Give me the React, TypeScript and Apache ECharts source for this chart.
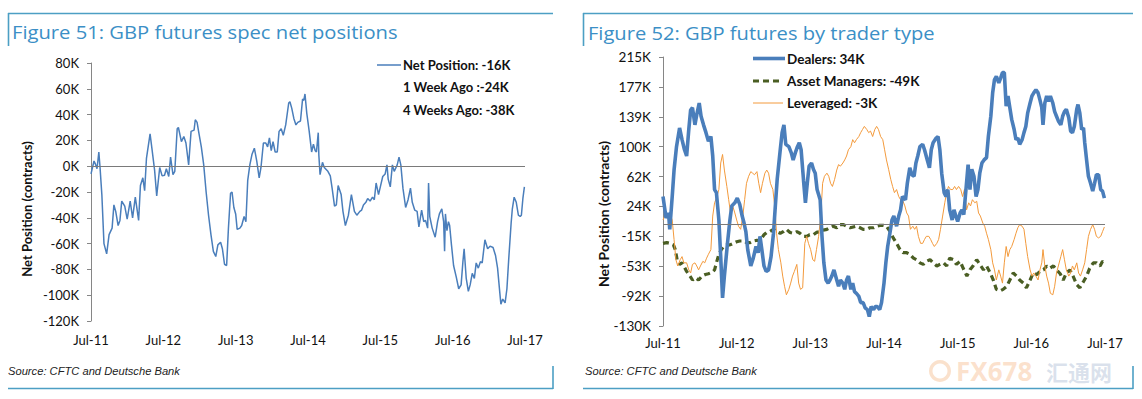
import React, { useEffect, useRef } from "react";
import * as echarts from "echarts";

// ---------- DATA (x = months since Jul-2011, y = thousands of contracts) ----------
const xTickLabels = ["Jul-11", "Jul-12", "Jul-13", "Jul-14", "Jul-15", "Jul-16", "Jul-17"];
const rightTickLabels = ["-130K", "-92K", "-53K", "-15K", "24K", "62K", "100K", "139K", "177K", "215K"];

const legendLeft = ["Net Position: -16K", "1 Week Ago :-24K", "4 Weeks Ago: -38K"];
const legendRight = ["Dealers: 34K", "Asset Managers: -49K", "Leveraged: -3K"];

const netPosition: [number, number][] = [
  [0, -6], [0.5, 4], [0.7, 2], [1.0, -2], [1.3, 11], [1.5, -1], [1.8, -22], [2.15, -60], [2.6, -68], [3.0, -53],
  [3.5, -48], [3.8, -30], [4.1, -35], [4.5, -46], [4.8, -42], [5.1, -27], [5.6, -31], [6.0, -41], [6.5, -27], [6.9, -40],
  [7.35, -24], [7.9, -42], [8.2, -15], [8.6, -9], [8.9, -19], [9.2, 6], [9.8, 25], [10.1, 14], [10.55, -3], [10.9, -23],
  [11.4, -1], [11.8, -7.5], [12.2, -7], [12.5, -2], [12.9, -8], [13.2, 7], [13.6, -6.5], [13.9, -4], [14.3, 29], [14.5, 30],
  [15.0, 19], [15.4, 23], [15.75, 18], [16.2, 1], [16.6, 27], [17.1, 28], [17.3, 36], [17.6, 34], [17.85, 27], [18.3, 15],
  [18.7, 1], [19.1, -20], [19.5, -38], [19.9, -53], [20.3, -66], [20.7, -70], [21.05, -61], [21.5, -59], [21.8, -64], [22.15, -76],
  [22.5, -77], [22.8, -48], [23.15, -21], [23.4, -20], [23.7, -32], [24.0, -37], [24.25, -49], [24.7, -48], [25.0, -46], [25.4, -39],
  [25.7, -43], [26.0, -11], [26.35, 1], [26.7, 9], [27.1, 14], [27.5, 4], [27.9, -9], [28.2, -1], [28.6, 18], [29.0, 18],
  [29.3, 15], [29.6, 22], [29.9, 12], [30.2, 19], [30.55, 11], [30.9, 11], [31.2, 27], [31.55, 29], [31.9, 24], [32.3, 32],
  [32.8, 49], [33.0, 50], [33.3, 45], [33.65, 37], [34.0, 32], [34.3, 34], [34.75, 35], [35.1, 52], [35.3, 51], [35.5, 56],
  [35.8, 41], [36.2, 27], [36.6, 11], [36.9, 17], [37.2, 12], [37.4, 11], [37.7, 26], [37.8, 8.5], [38.0, -6.5], [38.4, 3],
  [38.7, -1], [39.3, -4], [39.7, -7.5], [40.0, -17], [40.4, -31], [40.7, -30], [41.0, -15], [41.5, -22], [41.8, -35], [42.2, -46],
  [42.7, -38], [43.2, -22], [43.7, -35], [44.1, -38], [44.6, -35], [44.9, -34], [45.2, -30], [45.6, -28], [45.9, -25], [46.3, -27],
  [46.7, -24], [47.0, -26], [47.3, -13], [47.7, -22], [48.0, -16], [48.4, -8], [48.8, -6], [49.1, 1], [49.3, -10], [49.65, -16],
  [50.0, 1], [50.3, -4], [50.8, 1], [51.1, 7], [51.4, 1], [51.75, -17], [52.2, -32], [52.6, -26], [53.0, -17], [53.3, -28],
  [53.7, -34], [54.1, -35], [54.4, -47], [54.85, -34], [55.2, -43], [55.5, -42], [55.85, -48], [56.0, -13], [56.2, -39], [56.6, -48],
  [57.1, -55], [57.5, -43], [57.8, -37], [58.2, -33], [58.5, -43], [58.66, -66], [58.8, -37], [59.05, -50], [59.3, -43], [59.5, -46],
  [59.8, -61], [60.15, -77], [60.6, -86], [61.0, -95], [61.4, -92], [61.7, -74], [61.9, -64], [62.25, -87], [62.6, -97], [62.9, -92],
  [63.25, -83], [63.6, -87], [63.9, -75], [64.25, -79], [64.6, -74], [64.9, -75], [65.35, -57], [65.8, -64], [66.2, -62], [66.7, -63],
  [67.1, -69], [67.45, -79], [67.8, -97], [68.0, -107], [68.3, -103], [68.7, -106], [69.0, -95], [69.3, -72], [69.7, -44], [69.9, -33],
  [70.2, -24], [70.55, -28], [70.9, -38], [71.2, -39], [71.4, -38], [71.65, -25], [71.9, -16],
];

const dealers: [number, number][] = [
  [0, 36], [0.5, 8.5], [0.9, 15], [1.1, -6], [1.5, 36], [1.8, 70], [2.2, 100], [2.7, 124], [3.1, 109], [3.5, 96],
  [3.85, 88], [4.2, 122], [4.5, 147], [4.8, 150], [5.2, 128], [5.5, 141], [5.9, 156], [6.2, 139], [6.6, 128], [7.0, 118],
  [7.4, 107], [7.8, 113], [8.1, 88], [8.4, 45], [8.7, 41], [9.1, 6], [9.4, -41], [9.7, -94], [10.0, -66], [10.5, -24],
  [10.9, 6], [11.2, 24], [11.7, 28], [12.1, 34], [12.5, 26], [12.9, 11], [13.2, 2], [13.5, -9], [13.8, -32], [14.3, -53],
  [14.7, -43], [15.15, -28], [15.5, -36], [15.8, -15], [16.1, -32], [16.45, -53], [16.8, -60], [17.2, -58], [17.6, -41], [18.0, -11],
  [18.3, 24], [18.6, 58], [19.1, 96], [19.4, 118], [19.7, 128], [20.0, 103], [20.5, 100], [20.9, 92], [21.2, 83], [21.55, 92],
  [21.9, 100], [22.2, 105], [22.5, 96], [22.9, 56], [23.2, 28], [23.5, 53], [23.8, 75], [24.2, 79], [24.5, 71], [24.8, 66],
  [25.1, 45], [25.6, 32], [25.9, -15], [26.2, -49], [26.55, -71], [26.9, -75], [27.2, -71], [27.5, -66], [27.85, -58], [28.3, -71],
  [28.6, -79], [28.9, -71], [29.3, -75], [29.6, -83], [29.9, -71], [30.2, -66], [30.6, -83], [30.9, -75], [31.2, -86], [31.5, -88],
  [31.9, -92], [32.2, -100], [32.6, -100], [32.95, -107], [33.3, -109], [33.6, -118], [33.9, -105], [34.3, -109], [34.6, -105], [34.9, -105],
  [35.3, -109], [35.6, -100], [36.0, -75], [36.3, -49], [36.6, -28], [37.0, -9], [37.3, 6], [37.6, 11], [38.05, -2], [38.4, 11],
  [38.7, 19], [39.0, 36], [39.5, 32], [39.8, 53], [40.2, 73], [40.55, 64], [40.9, 62], [41.2, 79], [41.5, 88], [41.85, 100],
  [42.3, 103], [42.6, 96], [43.05, 83], [43.4, 73], [43.7, 96], [44.0, 105], [44.5, 111], [44.8, 113], [45.1, 96], [45.4, 66],
  [45.8, 41], [46.1, 36], [46.4, 45], [46.7, 19], [47.1, 6], [47.4, 19], [47.7, 11], [48.0, 4], [48.4, 15], [48.7, 19],
  [49.0, 13], [49.35, 45], [49.7, 77], [50.0, 45], [50.3, 71], [50.65, 62], [51.0, 36], [51.3, 45], [51.6, 66], [51.95, 79],
  [52.3, 83], [52.7, 86], [53.0, 113], [53.4, 139], [53.7, 169], [54.0, 186], [54.3, 190], [54.7, 182], [55.0, 188], [55.3, 195],
  [55.6, 195], [55.9, 152], [56.2, 165], [56.5, 150], [56.8, 135], [57.2, 122], [57.5, 109], [57.8, 111], [58.1, 103], [58.5, 109],
  [58.8, 118], [59.1, 126], [59.4, 143], [59.8, 156], [60.1, 165], [60.4, 169], [60.75, 173], [61.1, 169], [61.4, 160], [61.7, 150],
  [61.9, 128], [62.2, 156], [62.5, 165], [62.8, 158], [63.1, 165], [63.5, 156], [63.8, 145], [64.1, 139], [64.4, 133], [64.8, 128],
  [65.1, 139], [65.4, 145], [65.7, 148], [66.1, 137], [66.4, 120], [66.7, 118], [67.0, 126], [67.4, 148], [67.6, 154], [67.9, 143],
  [68.2, 122], [68.5, 124], [68.7, 105], [69.0, 83], [69.3, 62], [69.65, 53], [70.0, 43], [70.3, 53], [70.6, 64], [70.95, 64],
  [71.3, 45], [71.6, 43], [71.9, 34],
];

const assetManagers: [number, number][] = [
  [0, -24], [0.6, -23], [1.1, -24], [1.7, -26], [2.0, -32], [2.3, -45], [2.7, -51], [3.1, -49], [3.4, -53], [3.85, -60],
  [4.4, -66], [4.8, -71], [5.3, -68], [5.8, -71], [6.35, -66], [6.9, -64], [7.4, -63], [8.0, -61], [8.4, -58], [8.7, -49],
  [9.1, -38], [9.5, -32], [9.9, -28], [10.4, -26], [10.9, -26], [11.45, -24], [12.0, -22], [12.5, -21], [13.1, -21], [13.6, -23],
  [14.2, -23], [14.7, -21], [15.3, -20], [15.8, -21], [16.1, -17], [16.45, -13], [16.9, -10], [17.4, -9], [18.0, -6], [18.5, -9],
  [19.1, -11], [19.6, -9], [20.1, -6], [20.7, -10], [21.2, -11], [21.8, -9], [22.3, -11], [22.9, -15], [23.4, -15], [23.9, -13],
  [24.5, -13], [25.0, -10], [25.6, -9], [26.1, -7], [26.7, -6], [27.2, -4], [27.7, -2], [28.3, -4], [28.8, 0], [29.4, 0],
  [29.9, -2], [30.5, -4], [31.0, -3], [31.5, -2], [32.1, -4], [32.6, -6], [33.2, -6], [33.7, -4], [34.3, -4], [34.8, -2],
  [35.3, -1], [35.9, -1], [36.4, -2], [37.0, -9], [37.5, -17], [38.05, -24], [38.6, -32], [39.1, -36], [39.7, -36], [40.2, -38],
  [40.8, -43], [41.3, -45], [41.85, -49], [42.4, -51], [42.9, -47], [43.5, -45], [44.0, -49], [44.6, -53], [45.1, -51], [45.7, -49],
  [46.2, -53], [46.7, -43], [47.3, -45], [47.8, -51], [48.4, -47], [48.9, -56], [49.5, -66], [50.0, -58], [50.5, -53], [51.1, -45],
  [51.6, -51], [52.2, -58], [52.7, -53], [53.3, -62], [53.8, -71], [54.3, -83], [54.9, -85], [55.4, -83], [56.0, -79], [56.5, -71],
  [57.05, -62], [57.6, -66], [58.1, -71], [58.7, -75], [59.2, -81], [59.8, -71], [60.3, -62], [60.9, -64], [61.4, -60], [62.0, -58],
  [62.5, -53], [63.0, -56], [63.6, -53], [64.1, -58], [64.7, -63], [65.2, -71], [65.7, -62], [66.3, -58], [66.8, -66], [67.4, -77],
  [67.9, -81], [68.5, -73], [69.0, -66], [69.5, -56], [70.1, -49], [70.6, -49], [71.2, -53], [71.6, -47], [71.9, -49],
];

const leveraged: [number, number][] = [
  [0, 6], [0.5, 15], [0.8, 11], [1.1, 15], [1.5, 6], [1.8, -19], [2.1, -45], [2.4, -53], [2.8, -45], [3.1, -41],
  [3.4, -49], [3.85, -49], [4.2, -58], [4.5, -62], [4.8, -51], [5.2, -49], [5.5, -53], [5.8, -58], [6.1, -53], [6.5, -47],
  [6.8, -49], [7.1, -43], [7.4, -38], [7.8, -32], [8.1, 11], [8.4, 28], [8.7, 34], [9.1, 45], [9.4, 79], [9.7, 90],
  [10.0, 70], [10.4, 49], [10.7, 32], [11.0, 15], [11.35, 24], [11.7, 15], [12.0, 6], [12.3, -2], [12.65, -6], [13.0, 11],
  [13.3, 32], [13.6, 53], [13.95, 62], [14.3, 68], [14.6, 66], [14.9, 64], [15.3, 68], [15.6, 53], [15.9, 41], [16.2, 53],
  [16.6, 66], [16.9, 70], [17.2, 66], [17.5, 53], [17.9, 45], [18.2, 24], [18.5, -11], [18.8, -32], [19.2, -49], [19.5, -66],
  [19.8, -79], [20.1, -90], [20.5, -83], [20.8, -75], [21.1, -66], [21.4, -60], [21.8, -51], [22.1, -75], [22.4, -83], [22.75, -81],
  [23.1, -24], [23.4, -15], [23.7, -24], [24.05, -32], [24.4, -45], [24.7, -47], [25.0, -32], [25.35, -15], [25.7, 11], [26.0, 53],
  [26.3, 62], [26.7, 66], [27.0, 62], [27.3, 53], [27.6, 49], [27.95, 58], [28.3, 70], [28.6, 77], [28.9, 75], [29.3, 79],
  [29.6, 83], [29.9, 88], [30.2, 96], [30.6, 100], [30.9, 109], [31.2, 105], [31.5, 109], [31.9, 113], [32.2, 118], [32.5, 122],
  [32.8, 126], [33.2, 122], [33.5, 118], [33.8, 120], [34.15, 113], [34.5, 122], [34.8, 126], [35.1, 122], [35.45, 113], [35.8, 109],
  [36.1, 96], [36.4, 83], [36.75, 71], [37.1, 58], [37.4, 49], [37.7, 41], [38.05, 45], [38.4, 36], [38.7, 32], [39.0, 32],
  [39.4, 24], [39.7, 15], [40.0, 11], [40.3, -6], [40.7, -2], [41.0, -6], [41.3, -2], [41.6, -15], [41.96, -24], [42.3, -24],
  [42.6, -19], [42.9, -15], [43.3, -15], [43.6, -19], [43.9, -24], [44.2, -28], [44.6, -24], [44.9, -19], [45.2, -6], [45.55, 11],
  [45.9, 28], [46.2, 41], [46.5, 49], [46.85, 45], [47.2, 45], [47.5, 49], [47.8, 45], [48.15, 49], [48.5, 45], [48.8, 36],
  [49.1, 45], [49.45, 19], [49.8, 28], [50.1, 24], [50.4, 32], [50.8, 28], [51.1, 30], [51.4, 15], [51.7, 11], [52.1, 2],
  [52.4, -2], [52.7, -11], [53.0, -19], [53.4, -32], [53.7, -49], [54.0, -58], [54.3, -71], [54.7, -58], [55.0, -66], [55.3, -75],
  [55.6, -49], [55.9, -28], [56.2, -41], [56.5, -32], [56.8, -28], [57.2, -19], [57.5, -11], [57.8, -4], [58.1, 0], [58.5, -2],
  [58.8, -6], [59.1, -24], [59.4, -41], [59.8, -58], [60.1, -66], [60.4, -62], [60.75, -66], [61.1, -71], [61.4, -58], [61.7, -49],
  [61.9, -32], [62.2, -53], [62.5, -66], [62.8, -75], [63.1, -88], [63.5, -90], [63.8, -79], [64.1, -62], [64.4, -53], [64.8, -41],
  [65.1, -32], [65.4, -45], [65.7, -58], [66.1, -66], [66.4, -62], [66.7, -53], [67.0, -58], [67.4, -49], [67.7, -62], [68.0, -66],
  [68.35, -58], [68.7, -49], [69.0, -32], [69.3, -15], [69.65, -6], [70.0, 0], [70.3, -6], [70.6, -15], [70.95, -17], [71.3, -15],
  [71.6, -9], [71.9, -3],
];

// ---------- STYLE ----------
const FRAME = "#4c9fc4";
const TITLE = "#3b8fc6";
const AXIS = "#868686";
const BLUE = "#4a7ebb";
const GREEN = "#4a5e23";
const ORANGE = "#f39a3c";
const CAL = "Lato";

function measure(text: string, font: string): number {
  const c = document.createElement("canvas").getContext("2d");
  if (!c) return 0;
  c.font = font;
  return c.measureText(text).width;
}

function fitText(text: string, x: number, y: number, size: number, family: string, weight: string, style: string, color: string, width: number, extra: any = {}) {
  const w = measure(text, `${style} ${weight} ${size}px ${family}`) || width;
  return {
    type: "text",
    x,
    y,
    scaleX: width / w,
    style: {
      text,
      fill: color,
      font: `${style} ${weight} ${size}px ${family}`,
      verticalAlign: "middle",
      align: "left",
      ...extra,
    },
    silent: true,
  };
}

function hline(x1: number, x2: number, y: number, color: string, width: number, dash?: number[]) {
  return {
    type: "line",
    shape: { x1, y1: y, x2, y2: y },
    style: { stroke: color, lineWidth: width, lineDash: dash },
    silent: true,
  };
}
function vline(x: number, y1: number, y2: number, color: string, width: number) {
  return {
    type: "line",
    shape: { x1: x, y1, x2: x, y2 },
    style: { stroke: color, lineWidth: width },
    silent: true,
  };
}

function xAxisCfg(gridIndex: number, margin: number) {
  return {
    type: "value",
    gridIndex,
    min: 0,
    max: 72,
    interval: 12,
    axisLine: { show: false },
    axisTick: { show: false },
    splitLine: { show: false },
    axisLabel: {
      margin,
      color: "#111",
      fontFamily: CAL,
      fontSize: 13,
      formatter: (v: number) => xTickLabels[Math.round(v / 12)] ?? "",
    },
  };
}

export default function App() {
  const ref = useRef<HTMLDivElement>(null);
  useEffect(() => {
    if (!ref.current) return;
    const chart = echarts.init(ref.current, undefined, { renderer: "svg" });
    const rInterval = 345 / 9;
    const zeroLine = {
      silent: true,
      symbol: "none",
      label: { show: false },
      lineStyle: { color: "#7a7a7a", width: 1, type: "solid" },
      data: [{ yAxis: 0 }],
    };
    const option: any = {
      animation: false,
      backgroundColor: "#ffffff",
      grid: [
        { left: 91, top: 63, width: 434, height: 258 },
        { left: 663, top: 57, width: 442, height: 269 },
      ],
      xAxis: [xAxisCfg(0, 12), xAxisCfg(1, 10)],
      yAxis: [
        {
          type: "value",
          gridIndex: 0,
          min: -120,
          max: 80,
          interval: 20,
          axisLine: { show: true, lineStyle: { color: AXIS } },
          axisTick: { show: true, length: 4, lineStyle: { color: AXIS } },
          splitLine: { show: false },
          axisLabel: { margin: 12, color: "#111", fontFamily: CAL, fontSize: 13, formatter: (v: number) => `${v}K` },
        },
        {
          type: "value",
          gridIndex: 1,
          min: -130,
          max: 215,
          interval: rInterval,
          axisLine: { show: true, lineStyle: { color: AXIS } },
          axisTick: { show: true, length: 4, lineStyle: { color: AXIS } },
          splitLine: { show: false },
          axisLabel: {
            margin: 12,
            color: "#111",
            fontFamily: CAL,
            fontSize: 13.5,
            formatter: (v: number) => rightTickLabels[Math.round((v + 130) / rInterval)] ?? "",
          },
        },
      ],
      series: [
        {
          name: legendLeft[0],
          type: "line",
          xAxisIndex: 0,
          yAxisIndex: 0,
          data: netPosition,
          showSymbol: false,
          symbol: "none",
          lineStyle: { color: BLUE, width: 1.5 },
          markLine: zeroLine,
        },
        {
          name: legendRight[1],
          type: "line",
          xAxisIndex: 1,
          yAxisIndex: 1,
          data: assetManagers,
          symbol: "none",
          lineStyle: { color: GREEN, width: 3.2, type: [6, 4] },
          markLine: zeroLine,
          z: 2,
        },
        {
          name: legendRight[2],
          type: "line",
          xAxisIndex: 1,
          yAxisIndex: 1,
          data: leveraged,
          symbol: "none",
          lineStyle: { color: ORANGE, width: 1 },
          z: 3,
        },
        {
          name: legendRight[0],
          type: "line",
          xAxisIndex: 1,
          yAxisIndex: 1,
          data: dealers,
          symbol: "none",
          lineStyle: { color: BLUE, width: 3.6 },
          z: 4,
        },
      ],
      graphic: [
        // frames
        hline(8, 553, 13.5, FRAME, 1.3),
        vline(8.5, 13, 46, FRAME, 1.6),
        hline(583, 1133, 13.5, FRAME, 1.3),
        vline(583.5, 13, 46, FRAME, 1.6),
        hline(8, 553, 388.5, FRAME, 1.6),
        vline(553, 366, 389, FRAME, 1.6),
        hline(583, 1133, 388.5, FRAME, 1.6),
        vline(1133, 366, 389, FRAME, 1.6),
        // titles
        fitText("Figure 51: GBP futures spec net positions", 12, 32, 19, "'Open Sans'", "normal", "normal", TITLE, 386),
        fitText("Figure 52: GBP futures by trader type", 588, 33, 19, "'Open Sans'", "normal", "normal", TITLE, 347),
        // axis names
        {
          type: "text",
          x: 27,
          y: 209,
          rotation: Math.PI / 2,
          silent: true,
          style: { text: "Net Position (contracts)", fill: "#111", font: `bold 13px ${CAL}`, align: "center", verticalAlign: "middle" },
        },
        {
          type: "text",
          x: 603,
          y: 214,
          rotation: Math.PI / 2,
          silent: true,
          style: { text: "Net Position (contracts)", fill: "#111", font: `bold 14px ${CAL}`, align: "center", verticalAlign: "middle" },
        },
        // left legend
        hline(377, 401, 65, BLUE, 1.5),
        { type: "text", x: 403, y: 65, silent: true, style: { text: legendLeft[0], fill: "#111", font: `bold 13px ${CAL}`, verticalAlign: "middle" } },
        { type: "text", x: 403, y: 86.5, silent: true, style: { text: legendLeft[1], fill: "#111", font: `bold 13px ${CAL}`, verticalAlign: "middle" } },
        { type: "text", x: 403, y: 109.5, silent: true, style: { text: legendLeft[2], fill: "#111", font: `bold 13px ${CAL}`, verticalAlign: "middle" } },
        // right legend
        hline(753, 785, 58.5, BLUE, 3.6),
        { type: "text", x: 787, y: 58.5, silent: true, style: { text: legendRight[0], fill: "#111", font: `bold 13.5px ${CAL}`, verticalAlign: "middle" } },
        hline(753, 783, 81, GREEN, 3.2, [6, 4]),
        { type: "text", x: 787, y: 81, silent: true, style: { text: legendRight[1], fill: "#111", font: `bold 13.5px ${CAL}`, verticalAlign: "middle" } },
        hline(753, 783, 103, ORANGE, 1),
        { type: "text", x: 787, y: 103, silent: true, style: { text: legendRight[2], fill: "#111", font: `bold 13.5px ${CAL}`, verticalAlign: "middle" } },
        // sources
        fitText("Source: CFTC and Deutsche Bank", 8, 371, 11, "'Liberation Sans'", "normal", "italic", "#222", 172),
        fitText("Source: CFTC and Deutsche Bank", 585, 371, 11, "'Liberation Sans'", "normal", "italic", "#222", 172),
        // watermark (faint, below the axis labels)
        {
          type: "ring",
          shape: { cx: 940, cy: 371, r: 11, r0: 7.5 },
          style: { fill: "rgba(240,170,110,0.35)" },
          silent: true,
        },
        {
          type: "text",
          x: 956,
          y: 371,
          silent: true,
          style: { text: "FX678", fill: "rgba(245,170,110,0.35)", font: "bold 26px 'Noto Sans'", verticalAlign: "middle" },
        },
        {
          type: "text",
          x: 1046,
          y: 371,
          silent: true,
          style: { text: "汇通网", fill: "rgba(150,170,200,0.35)", font: "bold 22px 'Noto Sans CJK SC'", verticalAlign: "middle" },
        },
      ],
    };
    chart.setOption(option);
    return () => chart.dispose();
  }, []);
  return (
    <div
      ref={ref}
      style={{ position: "fixed", left: 0, top: 0, width: 1142, height: 399, background: "#fff" }}
    />
  );
}
